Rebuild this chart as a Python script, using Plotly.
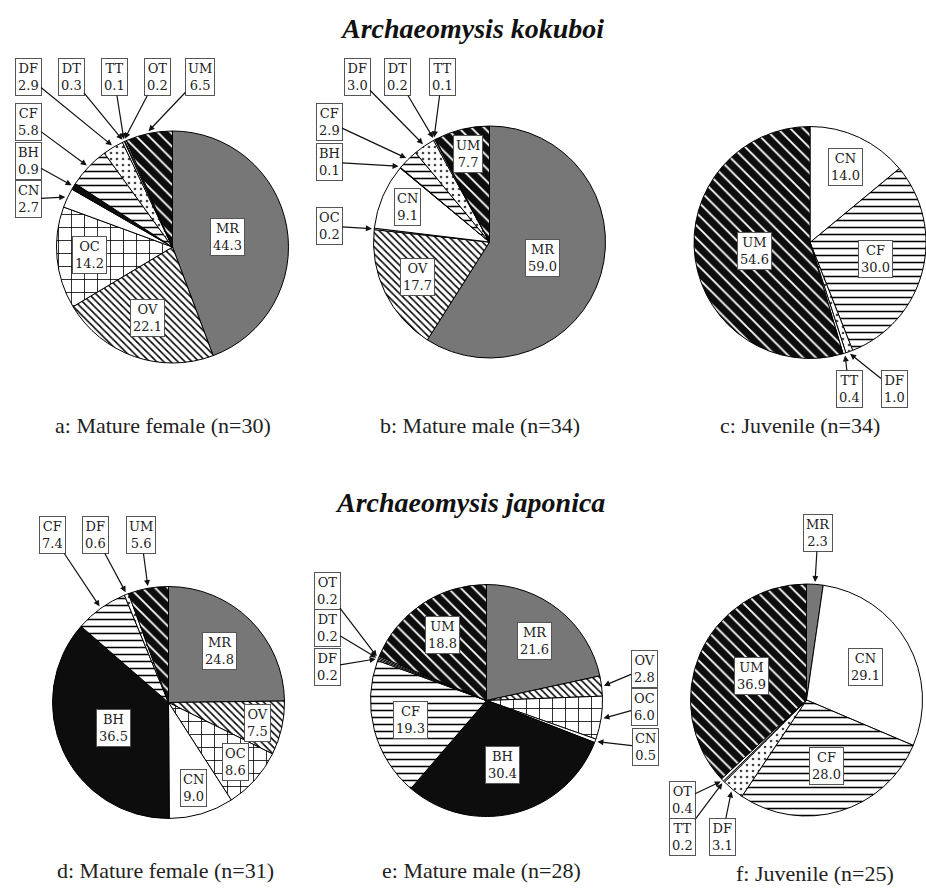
import math
import plotly.graph_objects as go

W, H = 926, 888

# ---- diet composition (% of stomach contents), listed clockwise from 12 o'clock ----
a_labels = ["MR", "OV", "OC", "CN", "BH", "CF", "DF", "DT", "TT", "OT", "UM"]
a_values = [44.3, 22.1, 14.2, 2.7, 0.9, 5.8, 2.9, 0.3, 0.1, 0.2, 6.5]

b_labels = ["MR", "OV", "OC", "CN", "BH", "CF", "DF", "DT", "TT", "UM"]
b_values = [59.0, 17.7, 0.2, 9.1, 0.1, 2.9, 3.0, 0.2, 0.1, 7.7]

c_labels = ["CN", "CF", "DF", "TT", "UM"]
c_values = [14.0, 30.0, 1.0, 0.4, 54.6]

d_labels = ["MR", "OV", "OC", "CN", "BH", "CF", "DF", "UM"]
d_values = [24.8, 7.5, 8.6, 9.0, 36.5, 7.4, 0.6, 5.6]

e_labels = ["MR", "OV", "OC", "CN", "BH", "CF", "DF", "DT", "OT", "UM"]
e_values = [21.6, 2.8, 6.0, 0.5, 30.4, 19.3, 0.2, 0.2, 0.2, 18.8]

f_labels = ["MR", "CN", "CF", "DF", "TT", "OT", "UM"]
f_values = [2.3, 29.1, 28.0, 3.1, 0.2, 0.4, 36.9]

captions = [
    "a: Mature female (n=30)", "b: Mature male (n=34)", "c: Juvenile (n=34)",
    "d: Mature female (n=31)", "e: Mature male (n=28)", "f: Juvenile (n=25)",
]
species = ["Archaeomysis kokuboi", "Archaeomysis japonica"]

# ---- fill style for each food category ----
STYLE = {
    "MR": dict(bg="#777777", fg="#777777", shape="", size=8, sol=0.3),
    "OV": dict(bg="white", fg="black", shape="\\", size=5, sol=0.3),
    "OC": dict(bg="white", fg="black", shape="+", size=13, sol=0.12),
    "CN": dict(bg="white", fg="white", shape="", size=8, sol=0.3),
    "BH": dict(bg="#0d0d0d", fg="#0d0d0d", shape="", size=8, sol=0.3),
    "CF": dict(bg="white", fg="black", shape="-", size=7, sol=0.22),
    "DF": dict(bg="white", fg="#444444", shape=".", size=6, sol=0.15),
    "DT": dict(bg="white", fg="white", shape="", size=8, sol=0.3),
    "TT": dict(bg="white", fg="white", shape="", size=8, sol=0.3),
    "OT": dict(bg="white", fg="white", shape="", size=8, sol=0.3),
    "UM": dict(bg="#0d0d0d", fg="white", shape="\\", size=9, sol=0.2),
}

R = 116
# pie centres (pixels from top-left)
CENTERS = [(172.5, 247), (489.5, 242), (810, 242.5),
           (168.5, 702.5), (486.5, 700.5), (806.5, 700)]

# call-out box centres (pixels) for the slices labelled outside the pie
CALLOUTS = [
    {"DF": (28, 77), "DT": (71, 77), "TT": (114, 77), "OT": (157, 77), "UM": (200, 77),
     "CF": (28, 122), "BH": (28, 161), "CN": (28, 199)},
    {"DF": (357, 77), "DT": (397, 77), "TT": (442, 77),
     "CF": (329, 122), "BH": (329, 162), "OC": (329, 226)},
    {"TT": (849, 389), "DF": (894, 389)},
    {"CF": (52, 535), "DF": (95, 535), "UM": (141, 535)},
    {"OT": (327, 591), "DT": (327, 628), "DF": (327, 667),
     "OV": (644, 669), "OC": (644, 707), "CN": (645, 747)},
    {"MR": (818, 533), "OT": (682, 800), "TT": (682, 837), "DF": (722, 837)},
]

CAPTION_POS = [(163, 425), (480, 425), (800, 425), (165, 870), (482, 870), (815, 873)]
TITLE_POS = [(472, 28), (470, 502)]

SERIF = "Liberation Serif, Times New Roman, serif"
BOXFONT = "DejaVu Serif, serif"

pies = [(a_labels, a_values), (b_labels, b_values), (c_labels, c_values),
        (d_labels, d_values), (e_labels, e_values), (f_labels, f_values)]


def px(x, y):
    """pixel position -> paper coordinates"""
    return x / W, 1 - y / H


def mid_angles(values):
    total = sum(values)
    out, cum = [], 0.0
    for v in values:
        frac = (cum + v / 2) / total
        out.append(math.radians(90 - 360 * frac))
        cum += v
    return out


fig = go.Figure()
annotations = []
CENTRED = dict(xref="paper", yref="paper", xanchor="center", yanchor="middle")

for i, (labels, values) in enumerate(pies):
    cx, cy = CENTERS[i]
    st = [STYLE[l] for l in labels]
    x0, y1 = px(cx - R, cy - R)
    x1, y0 = px(cx + R, cy + R)
    fig.add_trace(go.Pie(
        labels=labels, values=values, sort=False, direction="clockwise", rotation=0,
        textinfo="none", hoverinfo="label+value", showlegend=False,
        domain=dict(x=[max(0, x0), min(1, x1)], y=[max(0, y0), min(1, y1)]),
        marker=dict(
            colors=[s["bg"] for s in st],
            line=dict(color="black", width=1),
            pattern=dict(shape=[s["shape"] for s in st],
                         fgcolor=[s["fg"] for s in st],
                         bgcolor=[s["bg"] for s in st],
                         size=[s["size"] for s in st],
                         solidity=[s["sol"] for s in st]),
        ),
    ))

    total = sum(values)
    for lab, val, th in zip(labels, values, mid_angles(values)):
        text = f"{lab}<br>{val:.1f}"
        box = dict(CENTRED, text=text, bgcolor="white",
                   bordercolor="#555555", borderwidth=1, borderpad=2,
                   font=dict(family=BOXFONT, size=13, color="#222222"))
        if lab in CALLOUTS[i]:
            hx = cx + 1.02 * R * math.cos(th)
            hy = cy - 1.02 * R * math.sin(th)
            bx, by = CALLOUTS[i][lab]
            x, y = px(hx, hy)
            annotations.append(dict(box, x=x, y=y, ax=bx - hx, ay=by - hy,
                                    showarrow=True, arrowhead=2, arrowsize=1,
                                    arrowwidth=1.2, arrowcolor="#111111", standoff=0))
        else:
            frac = val / total
            k = min(0.82, max(0.48, 0.85 - 0.9 * frac))
            x, y = px(cx + k * R * math.cos(th), cy - k * R * math.sin(th))
            annotations.append(dict(box, x=x, y=y, showarrow=False))

for (tx, ty), cap in zip(CAPTION_POS, captions):
    x, y = px(tx, ty)
    annotations.append(dict(CENTRED, text=cap, x=x, y=y, showarrow=False,
                            font=dict(family=SERIF, size=22, color="#222222")))

for (tx, ty), sp in zip(TITLE_POS, species):
    x, y = px(tx, ty)
    annotations.append(dict(CENTRED, text=f"<b><i>{sp}</i></b>", x=x, y=y, showarrow=False,
                            font=dict(family=SERIF, size=28, color="#111111")))

fig.update_layout(width=W, height=H, margin=dict(l=0, r=0, t=0, b=0),
                  paper_bgcolor="white", plot_bgcolor="white",
                  annotations=annotations)

fig.write_html("out.html")
